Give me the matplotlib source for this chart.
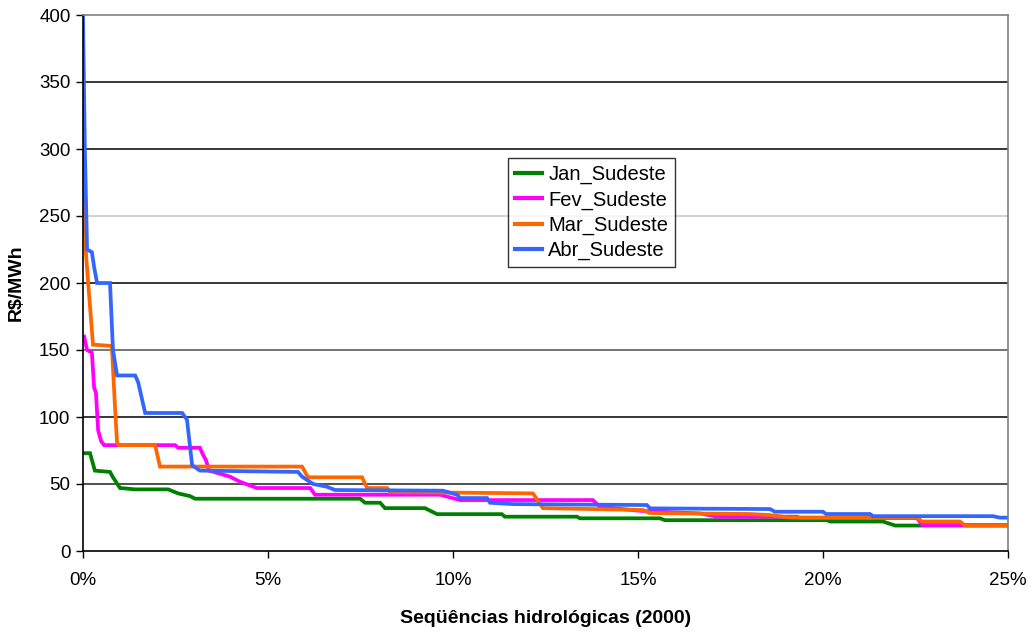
import matplotlib
matplotlib.use("Agg")
import matplotlib.pyplot as plt
from matplotlib.ticker import FuncFormatter

plt.rcParams['font.family'] = ['Liberation Sans', 'DejaVu Sans']

# Share of the 2000 hydrological sequences (%) and price (R$/MWh)
jan_x = [0.0, 0.19, 0.32, 0.73, 0.81, 1.0, 1.41, 2.30, 2.57, 2.89, 3.03, 7.49, 7.62, 8.03, 8.16,
         9.24, 9.57, 11.32, 11.4, 13.35, 13.43, 15.59, 15.73, 20.11, 20.19, 21.62, 21.95, 25.0]
jan_y = [73, 73, 60, 59, 55, 47, 46, 46, 43, 41, 39, 39, 36, 36, 32,
         32, 27.5, 27.5, 25.6, 25.6, 24.4, 24.4, 23, 23, 22, 22, 19, 19]

fev_x = [0.03, 0.11, 0.24, 0.30, 0.35, 0.41, 0.49, 0.57, 2.49, 2.57, 3.16, 3.24, 3.32, 3.41,
         3.97, 4.24, 4.70, 6.14, 6.27, 9.65, 10.19, 13.78, 13.97, 15.05, 16.68, 17.14,
         19.30, 19.38, 22.54, 22.68, 25.0]
fev_y = [160, 150, 148, 122, 118, 90, 82, 79, 79, 77, 77, 72, 68, 60,
         55.5, 51.7, 47, 47, 42, 42, 38, 38, 33, 30, 28, 25.6,
         25.6, 24.6, 24.6, 19.4, 19.4]

mar_x = [0.0, 0.05, 0.08, 0.14, 0.27, 0.78, 0.86, 0.92, 0.97, 1.95, 2.08, 5.92, 6.08, 7.54,
         7.68, 8.22, 8.30, 12.16, 12.43, 15.14, 15.32, 18.03, 18.57, 19.11, 22.54, 22.68,
         23.70, 23.84, 25.0]
mar_y = [300, 240, 222, 200, 154, 153, 110, 81, 79, 79, 63, 63, 55, 55,
         47, 47, 44, 43, 32, 30.6, 28.3, 27.6, 26.8, 25, 25, 22,
         22, 19, 19]

abr_x = [0.0, 0.05, 0.11, 0.24, 0.30, 0.38, 0.73, 0.81, 0.92, 1.41, 1.49, 1.68, 2.68, 2.81,
         2.95, 3.16, 5.81, 5.92, 6.22, 6.59, 6.81, 9.73, 10.11, 10.19, 10.92, 11.0, 11.62,
         15.24, 15.32, 18.57, 18.70, 20.0, 20.08, 21.27, 21.35, 24.59, 24.78, 25.0]
abr_y = [400, 300, 225, 223, 212, 200, 200, 150, 131, 131, 126, 103, 103, 98,
         64, 60, 59, 55.5, 50, 48, 45.5, 45, 42, 39.5, 39.5, 36, 35,
         34.3, 31.8, 31.3, 29.3, 29.3, 27.6, 27.6, 26, 26, 24.9, 24.9]

series = [
    ("Jan_Sudeste", jan_x, jan_y, "#008000"),
    ("Fev_Sudeste", fev_x, fev_y, "#FF00FF"),
    ("Mar_Sudeste", mar_x, mar_y, "#FF6600"),
    ("Abr_Sudeste", abr_x, abr_y, "#3366FF"),
]

fig = plt.figure(figsize=(10.32, 6.32), dpi=100)
ax = fig.add_axes([83/1032, 81/632, 925/1032, 536/632])

for name, xs, ys, c in series:
    ax.plot(xs, ys, color=c, lw=2.7, label=name, solid_joinstyle='miter')

ax.set_xlim(0, 25)
ax.set_ylim(0, 400)
ax.set_xticks([0, 5, 10, 15, 20, 25])
ax.set_yticks(range(0, 401, 50))
ax.xaxis.set_major_formatter(FuncFormatter(lambda v, p: f"{int(round(v))}%"))

grid_colors = {50: '#202020', 100: 'black', 150: '#505050', 200: 'black',
               250: '#c4c4c4', 300: 'black', 350: 'black'}
for yv, gc in grid_colors.items():
    ax.axhline(yv, color=gc, lw=1.1, zorder=0)

ax.spines['top'].set_color('#808080')
ax.spines['right'].set_color('#808080')
ax.spines['left'].set_color('black')
ax.spines['bottom'].set_color('black')
for s in ax.spines.values():
    s.set_linewidth(1.2)

ax.tick_params(axis='both', direction='out', length=5, width=1, labelsize=13.5, colors='black')
ax.tick_params(axis='x', pad=10)
ax.tick_params(axis='y', pad=4)

ax.set_xlabel("Seqüências hidrológicas (2000)", fontsize=14, fontweight='bold', labelpad=15)
ax.set_ylabel("R$/MWh", fontsize=14, fontweight='bold', labelpad=10)

leg = ax.legend(loc='upper left', bbox_to_anchor=(508/1032, 1 - 158/632),
                bbox_transform=fig.transFigure, fontsize=14.5, frameon=True,
                fancybox=False, edgecolor='black', handlelength=1.35,
                borderpad=0.35, labelspacing=0.3, handletextpad=0.3, borderaxespad=0)
leg.get_frame().set_linewidth(1.0)
for l in leg.get_lines():
    l.set_linewidth(3)

fig.savefig("out.png", dpi=100)
